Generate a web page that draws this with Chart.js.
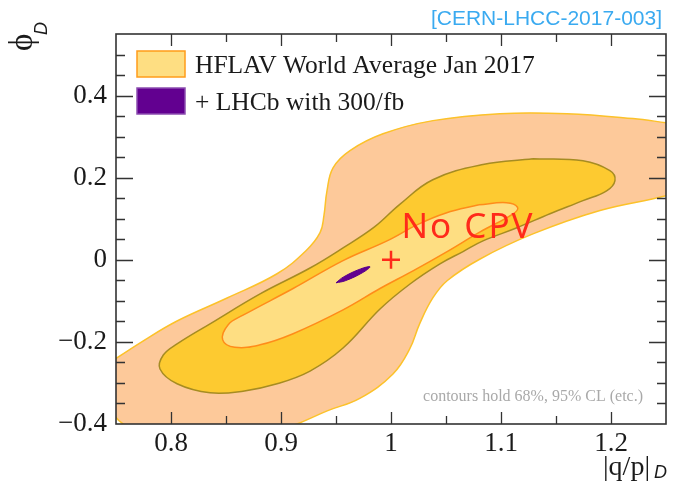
<!DOCTYPE html>
<html><head><meta charset="utf-8">
<script src="https://cdn.jsdelivr.net/npm/chart.js@4.4.0/dist/chart.umd.min.js"></script>
<style>html,body{margin:0;padding:0;background:#fff}#wrap{width:682px;height:492px}</style>
</head><body><div id="wrap"><canvas id="c" width="682" height="492"></canvas></div>
<script>
// ---- data ----
const outerContour = [[0.7355,-0.266],[0.7745,-0.198],[0.8055,-0.149],[0.851,-0.093],[0.8964,-0.034],[0.9227,0.022],[0.9355,0.066],[0.939,0.107],[0.9418,0.168],[0.9473,0.224],[0.9627,0.266],[0.9927,0.307],[1.0382,0.339],[1.099,0.356],[1.16,0.356],[1.22,0.344],[1.25,0.334],[1.285,0.322],[1.29,0.19],[1.25,0.156],[1.19,0.12],[1.129,0.063],[1.081,0.002],[1.051,-0.051],[1.038,-0.093],[1.026,-0.156],[1.017,-0.217],[1.0018,-0.278],[0.972,-0.337],[0.942,-0.368],[0.9145,-0.4],[0.899,-0.412],[0.826,-0.422],[0.772,-0.417],[0.7555,-0.398],[0.7464,-0.368],[0.7355,-0.266]];
const middleContour = [[1.129,0.246],[1.1745,0.241],[1.199,0.217],[1.2036,0.193],[1.196,0.168],[1.1745,0.144],[1.1445,0.112],[1.1145,0.078],[1.0836,0.046],[1.0655,0.02],[1.0445,-0.01],[1.0173,-0.059],[0.99,-0.12],[0.9564,-0.215],[0.9264,-0.271],[0.8964,-0.302],[0.8655,-0.32],[0.8355,-0.324],[0.8055,-0.302],[0.79,-0.266],[0.793,-0.232],[0.8055,-0.205],[0.8355,-0.156],[0.881,-0.083],[0.9264,-0.02],[0.9564,0.029],[0.985,0.08],[1.008,0.135],[1.038,0.195],[1.0836,0.232],[1.129,0.246]];
const innerContour = [[1.08,0.134],[1.105,0.139],[1.115,0.128],[1.111,0.112],[1.081,0.068],[1.051,0.02],[1.02,-0.027],[0.99,-0.07],[0.9564,-0.122],[0.911,-0.18],[0.881,-0.207],[0.858,-0.213],[0.847,-0.195],[0.852,-0.158],[0.8655,-0.135],[0.911,-0.07],[0.9564,-0.002],[0.9964,0.046],[1.0236,0.085],[1.05,0.114],[1.08,0.134]];
const lhcbContour = [[0.95,-0.0561],[0.9585,-0.051],[0.974,-0.0315],[0.9809,-0.0171],[0.9724,-0.0222],[0.9569,-0.0417],[0.95,-0.0561]];
const noCpvPoint = [[1.0,0.0]];
const xTickValues = [0.8,0.9,1.0,1.1,1.2];
const xTickLabels = ['0.8','0.9','1','1.1','1.2'];
const yTickValues = [-0.4,-0.2,0,0.2,0.4];
const yTickLabels = ['\u22120.4','\u22120.2','0','0.2','0.4'];
const xMarkValues = [0.8,0.85,0.9,0.95,1.0,1.05,1.1,1.15,1.2];
const yMarkValues = [-0.35,-0.3,-0.25,-0.2,-0.15,-0.1,-0.05,0,0.05,0.1,0.15,0.2,0.25,0.3,0.35,0.4,0.45,0.5];
const legendLabels = ['HFLAV World Average Jan 2017','+ LHCb with 300/fb'];
const noCpvLabel = 'No CPV';
const noCpvLabelPos = [1.07,0.054];
const noteText = 'contours hold 68%, 95% CL (etc.)';
const refText = '[CERN-LHCC-2017-003]';

const pts = a => a.map(p => ({x:p[0], y:p[1]}));
const serif = '"Liberation Serif", "Times New Roman", serif';

const overlay = {
  id:'overlay',
  afterDatasetsDraw(chart){
    const {ctx, chartArea:a, scales:{x,y}} = chart;
    ctx.save();
    // No CPV label
    ctx.fillStyle = '#ff2a1a';
    ctx.font = '35px "Noto Sans", sans-serif';
    ctx.textAlign = 'center'; ctx.textBaseline = 'alphabetic';
    ctx.letterSpacing = '2px';
    ctx.fillText(noCpvLabel, x.getPixelForValue(noCpvLabelPos[0]), y.getPixelForValue(noCpvLabelPos[1]));
    ctx.letterSpacing = '0px';
    // ticks
    ctx.strokeStyle = '#333'; ctx.lineWidth = 1.3;
    ctx.beginPath();
    xMarkValues.forEach(v => {
      const px = Math.round(x.getPixelForValue(v)) + 0.5;
      const major = xTickValues.some(t => Math.abs(t - v) < 1e-9);
      const L = major ? 12 : 8;
      ctx.moveTo(px, a.bottom); ctx.lineTo(px, a.bottom - L);
      ctx.moveTo(px, a.top); ctx.lineTo(px, a.top + L);
    });
    yMarkValues.forEach(v => {
      const py = Math.round(y.getPixelForValue(v)) + 0.5;
      const major = yTickValues.some(t => Math.abs(t - v) < 1e-9);
      const L = major ? 17 : 9;
      ctx.moveTo(a.left, py); ctx.lineTo(a.left + L, py);
      ctx.moveTo(a.right, py); ctx.lineTo(a.right - L, py);
    });
    ctx.stroke();
    ctx.lineWidth = 1.6;
    ctx.strokeRect(a.left, a.top, a.right - a.left, a.bottom - a.top);
    // legend
    const ds = chart.data.datasets;
    const legendItems = [ds[2], ds[3]];
    legendItems.forEach((d, i) => {
      const by = 51 + i * 37;
      ctx.fillStyle = d.backgroundColor;
      ctx.fillRect(137, by, 48, 26);
      ctx.strokeStyle = i === 0 ? '#ff9c1a' : '#8c4cb0';
      ctx.lineWidth = 1.5;
      ctx.strokeRect(137, by, 48, 26);
      ctx.fillStyle = '#1a1a1a';
      ctx.font = '25.5px ' + serif;
      ctx.textAlign = 'left';
      ctx.fillText(legendLabels[i], 195, by + 22);
    });
    // note
    ctx.fillStyle = '#a9a9a9';
    ctx.font = '16px ' + serif;
    ctx.textAlign = 'right';
    ctx.fillText(noteText, 643, 401);
    // reference
    ctx.fillStyle = '#3aaaf0';
    ctx.font = '21px "Liberation Sans", Arial, sans-serif';
    ctx.textAlign = 'right';
    ctx.fillText(refText, 662, 25);
    // x title
    ctx.fillStyle = '#1a1a1a';
    ctx.textAlign = 'left';
    ctx.font = '28px ' + serif;
    ctx.fillText('|q/p|', 603, 475);
    ctx.font = 'italic 18px "Liberation Sans", Arial, sans-serif';
    ctx.fillText('D', 654, 478);
    // y title (rotated)
    ctx.translate(32, 51);
    ctx.rotate(-Math.PI / 2);
    ctx.font = '33px ' + serif;
    ctx.fillText('\u03d5', 0, 0);
    ctx.font = 'italic 18px "Liberation Sans", Arial, sans-serif';
    ctx.fillText('D', 16, 15);
    ctx.restore();
  }
};

new Chart(document.getElementById('c'), {
  type: 'scatter',
  data: { datasets: [
    { label:'outer', data: pts(outerContour), showLine:true, fill:'shape', tension:0.4, pointRadius:0,
      backgroundColor:'#fdc99a', borderColor:'#fcc22a', borderWidth:1.5, order:5 },
    { label:'middle', data: pts(middleContour), showLine:true, fill:'shape', tension:0.4, pointRadius:0,
      backgroundColor:'#fdca30', borderColor:'#a68c22', borderWidth:1.5, order:4 },
    { label:legendLabels[0], data: pts(innerContour), showLine:true, fill:'shape', tension:0.4, pointRadius:0,
      backgroundColor:'#fede82', borderColor:'#ff8c1a', borderWidth:1.5, order:3 },
    { label:legendLabels[1], data: pts(lhcbContour), showLine:true, fill:'shape', tension:0.4, pointRadius:0,
      backgroundColor:'#620090', borderColor:'#5a0088', borderWidth:1, order:2 },
    { label:'No CPV', data: pts(noCpvPoint), showLine:false, pointStyle:'cross', pointRadius:9,
      borderColor:'#ff2a1a', backgroundColor:'#ff2a1a', pointBorderWidth:2.5, borderWidth:2.5, order:1 }
  ]},
  options: {
    responsive:false, animation:false, devicePixelRatio:1,
    layout:{ padding:{ top:34, right:16, left:0, bottom:0 } },
    plugins:{ legend:{display:false}, tooltip:{enabled:false} },
    scales:{
      x:{ type:'linear', min:0.75, max:1.25,
        grid:{display:false, drawTicks:false}, border:{display:false},
        afterBuildTicks: s => { s.ticks = xTickValues.map(v => ({value:v})); },
        afterFit: s => { s.height = 68; },
        ticks:{ padding:4, color:'#1a1a1a', font:{family:serif, size:27}, maxRotation:0, autoSkip:false,
          callback:(v,i) => xTickLabels[i] } },
      y:{ type:'linear', min:-0.4, max:0.55,
        grid:{display:false, drawTicks:false}, border:{display:false},
        afterBuildTicks: s => { s.ticks = yTickValues.map(v => ({value:v})); },
        afterFit: s => { s.width = 116; },
        ticks:{ padding:9, color:'#1a1a1a', font:{family:serif, size:27}, autoSkip:false,
          callback:(v,i) => yTickLabels[i] } }
    }
  },
  plugins:[overlay]
});
</script></body></html>
